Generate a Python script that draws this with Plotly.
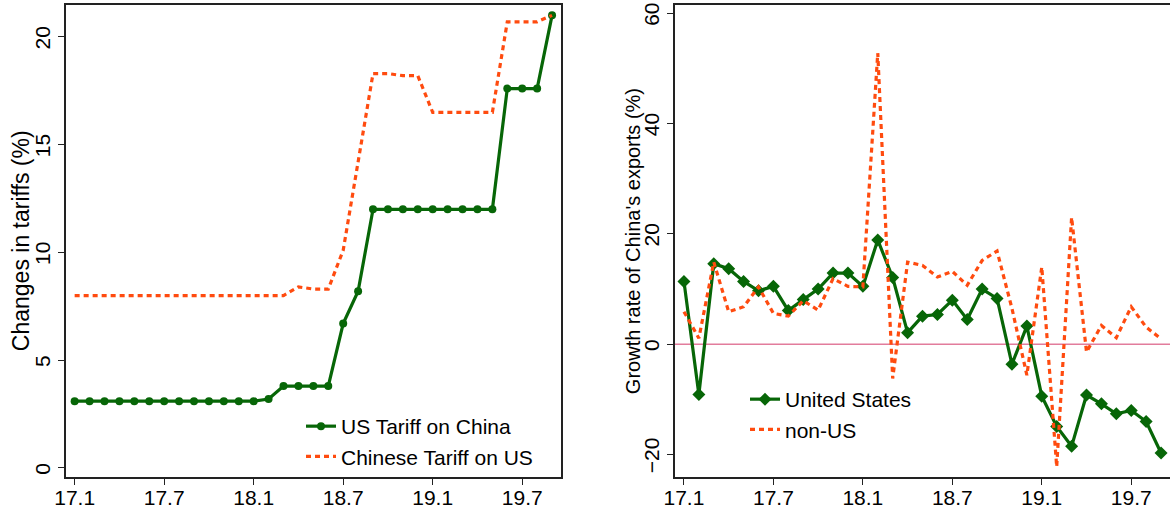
import plotly.graph_objects as go

months = ["17.1","17.2","17.3","17.4","17.5","17.6","17.7","17.8","17.9","17.10","17.11","17.12",
          "18.1","18.2","18.3","18.4","18.5","18.6","18.7","18.8","18.9","18.10","18.11","18.12",
          "19.1","19.2","19.3","19.4","19.5","19.6","19.7","19.8","19.9"]
tick_labels = ["17.1","17.7","18.1","18.7","19.1","19.7"]

us_tariff = [3.1,3.1,3.1,3.1,3.1,3.1,3.1,3.1,3.1,3.1,3.1,3.1,3.1,3.2,3.8,3.8,3.8,3.8,6.7,8.2,
             12,12,12,12,12,12,12,12,12,17.6,17.6,17.6,21.0]
cn_tariff = [8.0,8.0,8.0,8.0,8.0,8.0,8.0,8.0,8.0,8.0,8.0,8.0,8.0,8.0,8.0,8.4,8.3,8.3,10.1,14.2,
             18.3,18.3,18.2,18.2,16.5,16.5,16.5,16.5,16.5,20.7,20.7,20.7,21.0]

us_growth = [11.4,-9.1,14.6,13.7,11.4,9.7,10.5,6.1,8.1,10.0,12.9,12.9,10.5,18.9,12.1,2.1,5.1,5.4,
             8.0,4.5,10.0,8.3,-3.6,3.3,-9.4,-14.9,-18.5,-9.2,-10.8,-12.6,-12.0,-14.0,-19.7]
nonus_growth = [5.9,1.1,14.9,5.9,6.8,10.4,5.6,5.1,7.9,6.2,11.9,10.5,10.4,52.8,-6.2,14.9,14.3,12.2,
                13.2,10.7,15.2,16.9,6.5,-5.6,14.0,-22.2,23.0,-1.4,3.4,1.2,6.8,3.1,1.0]

GREEN = "#076607"
ORANGE = "#FF4B0F"
PINK = "#E27C9C"
FONT = "Liberation Sans, Arial, sans-serif"
W, H = 1170, 512

xi = list(range(len(months)))
tickvals = [months.index(t) for t in tick_labels]

fig = go.Figure()
fig.add_trace(go.Scatter(x=xi, y=us_tariff, name="US Tariff on China", mode="lines+markers",
                         line=dict(color=GREEN, width=3.2), marker=dict(symbol="circle", size=8, color=GREEN),
                         xaxis="x", yaxis="y", legend="legend"))
fig.add_trace(go.Scatter(x=xi, y=cn_tariff, name="Chinese Tariff on US", mode="lines",
                         line=dict(color=ORANGE, width=3.2, dash="5px,4px"),
                         xaxis="x", yaxis="y", legend="legend"))
fig.add_trace(go.Scatter(x=xi, y=us_growth, name="United States", mode="lines+markers",
                         line=dict(color=GREEN, width=3.2), marker=dict(symbol="diamond", size=10, color=GREEN),
                         xaxis="x2", yaxis="y2", legend="legend2"))
fig.add_trace(go.Scatter(x=xi, y=nonus_growth, name="non-US", mode="lines",
                         line=dict(color=ORANGE, width=3.2, dash="5px,4px"),
                         xaxis="x2", yaxis="y2", legend="legend2"))

ydom = [(H - 477) / H, (H - 5) / H]
axis_common = dict(showline=True, linecolor="#222", linewidth=1.5, mirror=True, showgrid=False,
                   zeroline=False, ticks="outside", ticklen=6, tickcolor="#222", tickwidth=1.3,
                   ticklabeloverflow="allow", automargin=False,
                   tickfont=dict(family=FONT, size=21, color="black"))

fig.update_layout(
    width=W, height=H, margin=dict(l=0, r=0, t=0, b=0, autoexpand=False),
    paper_bgcolor="white", plot_bgcolor="white",
    font=dict(family=FONT, size=21, color="black"),
    xaxis=dict(domain=[66 / W, 561 / W], range=[-0.58, 32.6], tickvals=tickvals, ticktext=tick_labels,
               anchor="y", ticklabelstandoff=-5, **axis_common),
    yaxis=dict(domain=ydom, range=[-0.42, 21.48], tickvals=[0, 5, 10, 15, 20], tickangle=-90,
               anchor="x", ticklabelstandoff=0, ticklabelshift=4, **axis_common),
    xaxis2=dict(domain=[675 / W, 1170 / W], range=[-0.6, 32.6], tickvals=tickvals, ticktext=tick_labels,
                anchor="y2", ticklabelstandoff=-5, **axis_common),
    yaxis2=dict(domain=ydom, range=[-24.06, 61.5], tickvals=[-20, 0, 20, 40, 60], tickangle=-90,
                anchor="x2", ticklabelstandoff=0, ticklabelshift=4, **axis_common),
    legend=dict(x=301 / W, y=(H - 406) / H, xanchor="left", yanchor="top", bgcolor="rgba(0,0,0,0)",
                font=dict(family=FONT, size=21), tracegroupgap=0),
    legend2=dict(x=745 / W, y=(H - 379) / H, xanchor="left", yanchor="top", bgcolor="rgba(0,0,0,0)",
                 font=dict(family=FONT, size=21), tracegroupgap=0),
    showlegend=True,
)

fig.add_shape(type="line", xref="x2 domain", yref="y2", x0=0, x1=1, y0=0, y1=0,
              line=dict(color=PINK, width=1.5), layer="below")

fig.add_annotation(text="Changes in tariffs (%)", textangle=-90, xref="paper", yref="paper",
                   x=21 / W, y=0.529, xanchor="center", yanchor="middle", showarrow=False,
                   font=dict(family=FONT, size=23, color="black"))
fig.add_annotation(text="Growth rate of China's exports (%)", textangle=-90, xref="paper", yref="paper",
                   x=633 / W, y=0.529, xanchor="center", yanchor="middle", showarrow=False,
                   font=dict(family=FONT, size=20, color="black"))

fig.write_html("out.html")
